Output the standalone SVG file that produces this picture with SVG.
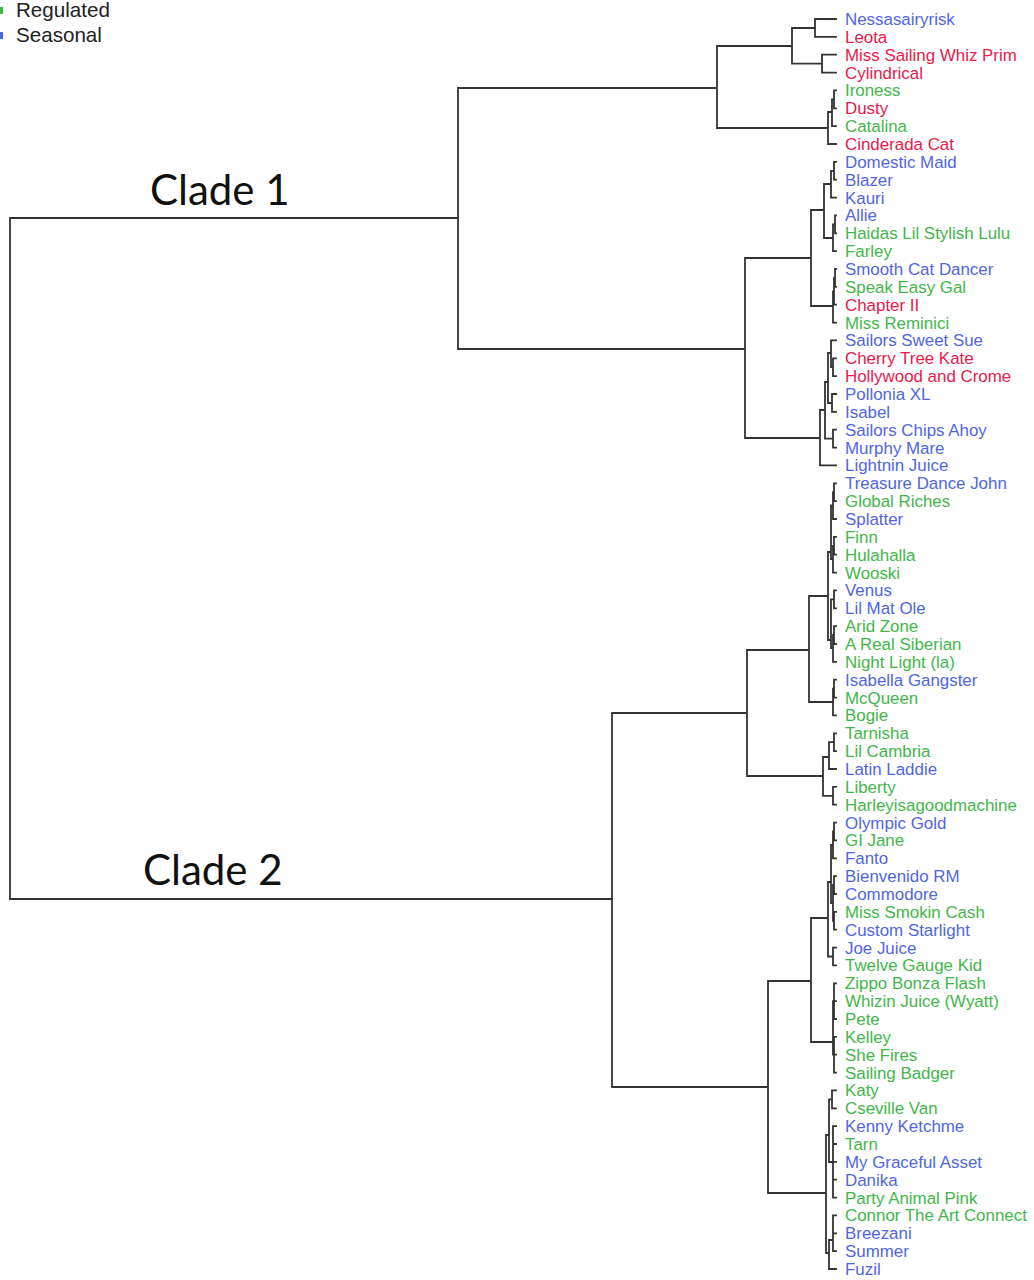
<svg xmlns="http://www.w3.org/2000/svg" width="1034" height="1280" viewBox="0 0 1034 1280">
<style>
.lbl{font-family:"Liberation Sans",Arial,sans-serif;font-size:16.9px}
.b{fill:#4f66e3}.r{fill:#e8194b}.g{fill:#43b64a}
.leg{font-family:"Liberation Sans",Arial,sans-serif;font-size:20.6px;fill:#222}
.clade{font-family:Lato,"Open Sans",sans-serif;font-size:42px;fill:#111}
.tree{fill:none;stroke:#333;stroke-width:1.8;stroke-linecap:square}
</style>
<rect width="1034" height="1280" fill="#fff"/>
<g id="legend">
<rect x="-4" y="7" width="7" height="7" fill="#43b64a"/>
<text class="leg" x="16" y="17">Regulated</text>
<rect x="-4" y="32" width="7" height="7" fill="#4f66e3"/>
<text class="leg" x="16" y="42">Seasonal</text>
</g>
<g id="clade-labels">
<text class="clade" x="150" y="205">Clade 1</text>
<text class="clade" x="143" y="885">Clade 2</text>
</g>
<g id="connectors" class="tree">
<path d="M10 218V899M10 218H458M10 899H612"/>
<path d="M458 88V349M458 88H717M458 349H745
M717 46V128M717 46H792M717 128H828
M792 28V63.6M792 28H815M792 63.6H822
M815 19V36.9M815 19H836M815 36.9H836
M822 54.7V72.6M822 54.7H836M822 72.6H836
M828 112V144M828 112H832M828 144H836
M832 99.4V126.1M832 99.4H834M832 126.1H836
M834 90.4V108.3M834 90.4H836M834 108.3H836
M745 258V438M745 258H811M745 438H820
M811 210V306M811 210H824M811 306H833
M824 184V238M824 184H831M824 238H833
M831 170.8V197.6M831 170.8H834M831 197.6H836
M834 161.9V179.7M834 161.9H836M834 179.7H836
M833 224.4V251.1M833 224.4H835M833 251.1H836
M835 215.4V233.3M835 215.4H836M835 233.3H836
M833 291.5V322.6M833 291.5H834M833 322.6H836
M834 278V304.7M834 278H835M834 304.7H836
M835 269V286.9M835 269H836M835 286.9H836
M820 410V465.4M820 410H825M820 465.4H836
M825 382V438.6M825 382H828M825 438.6H833
M828 353V403M828 353H831M828 403H832
M831 340.4V367.2M831 340.4H836M831 367.2H833
M833 358.3V376.1M833 358.3H836M833 376.1H836
M832 394V411.9M832 394H836M832 411.9H836
M833 429.7V447.6M833 429.7H836M833 447.6H836"/>
<path d="M612 713V1087M612 713H747M612 1087H768
M747 650V776M747 650H809M747 776H823
M809 596V702M809 596H828M809 702H833
M828 552V640M828 552H831M828 640H831
M831 505.5V559M831 505.5H833M831 559H833
M833 492.2V519M833 492.2H834M833 519H836
M834 483.3V501.1M834 483.3H836M834 501.1H836
M833 545.8V572.6M833 545.8H834M833 572.6H836
M834 536.9V554.7M834 536.9H836M834 554.7H836
M831 599.4V648M831 599.4H834M831 648H833
M834 590.4V608.3M834 590.4H836M834 608.3H836
M833 635V661.9M833 635H834M833 661.9H836
M834 626.1V644M834 626.1H836M834 644H836
M833 688.7V715.4M833 688.7H834M833 715.4H836
M834 679.7V697.6M834 679.7H836M834 697.6H836
M823 757V795.8M823 757H829M823 795.8H833
M829 742.2V769M829 742.2H834M829 769H836
M834 733.3V751.1M834 733.3H836M834 751.1H836
M833 786.9V804.7M833 786.9H836M833 804.7H836
M768 981V1193M768 981H811M768 1193H826
M811 918V1042M811 918H828M811 1042H833
M828 882V956.5M828 882H831M828 956.5H833
M831 845V903M831 845H833M831 903H833
M833 831.5V858.3M833 831.5H834M833 858.3H836
M834 822.6V840.4M834 822.6H836M834 840.4H836
M833 885V920.8M833 885H834M833 920.8H834
M834 876.1V894M834 876.1H836M834 894H836
M834 911.9V929.7M834 911.9H836M834 929.7H836
M833 947.6V965.4M833 947.6H836M833 965.4H836
M833 1001.1V1054.7M833 1001.1H834M833 1054.7H834
M834 983.3V1019M834 983.3H836M834 1001.1H836M834 1019H836
M834 1036.9V1072.6M834 1036.9H836M834 1054.7H836M834 1072.6H836
M826 1135V1253M826 1135H829M826 1253H829
M829 1099.4V1162M829 1099.4H832M829 1162H833
M832 1090.4V1108.3M832 1090.4H836M832 1108.3H836
M833 1126.1V1197.6M833 1126.1H836M833 1144H836M833 1161.9H836M833 1179.7H836M833 1197.6H836
M829 1240V1269M829 1240H833M829 1269H836
M833 1215.4V1251.1M833 1215.4H836M833 1233.3H836M833 1251.1H836"/>
</g>
<g id="leaves" class="lbl">
<g id="n01"><text class="b" x="845" y="25">Nessasairyrisk</text></g>
<g id="n02"><text class="r" x="845" y="42.9">Leota</text></g>
<g id="n03"><text class="r" x="845" y="60.7">Miss Sailing Whiz Prim</text></g>
<g id="n04"><text class="r" x="845" y="78.6">Cylindrical</text></g>
<g id="n05"><text class="g" x="845" y="96.4">Ironess</text></g>
<g id="n06"><text class="r" x="845" y="114.3">Dusty</text></g>
<g id="n07"><text class="g" x="845" y="132.1">Catalina</text></g>
<g id="n08"><text class="r" x="845" y="150">Cinderada Cat</text></g>
<g id="n09"><text class="b" x="845" y="167.9">Domestic Maid</text></g>
<g id="n10"><text class="b" x="845" y="185.7">Blazer</text></g>
<g id="n11"><text class="b" x="845" y="203.6">Kauri</text></g>
<g id="n12"><text class="b" x="845" y="221.4">Allie</text></g>
<g id="n13"><text class="g" x="845" y="239.3">Haidas Lil Stylish Lulu</text></g>
<g id="n14"><text class="g" x="845" y="257.1">Farley</text></g>
<g id="n15"><text class="b" x="845" y="275">Smooth Cat Dancer</text></g>
<g id="n16"><text class="g" x="845" y="292.9">Speak Easy Gal</text></g>
<g id="n17"><text class="r" x="845" y="310.7">Chapter II</text></g>
<g id="n18"><text class="g" x="845" y="328.6">Miss Reminici</text></g>
<g id="n19"><text class="b" x="845" y="346.4">Sailors Sweet Sue</text></g>
<g id="n20"><text class="r" x="845" y="364.3">Cherry Tree Kate</text></g>
<g id="n21"><text class="r" x="845" y="382.1">Hollywood and Crome</text></g>
<g id="n22"><text class="b" x="845" y="400">Pollonia XL</text></g>
<g id="n23"><text class="b" x="845" y="417.9">Isabel</text></g>
<g id="n24"><text class="b" x="845" y="435.7">Sailors Chips Ahoy</text></g>
<g id="n25"><text class="b" x="845" y="453.6">Murphy Mare</text></g>
<g id="n26"><text class="b" x="845" y="471.4">Lightnin Juice</text></g>
<g id="n27"><text class="b" x="845" y="489.3">Treasure Dance John</text></g>
<g id="n28"><text class="g" x="845" y="507.1">Global Riches</text></g>
<g id="n29"><text class="b" x="845" y="525">Splatter</text></g>
<g id="n30"><text class="g" x="845" y="542.9">Finn</text></g>
<g id="n31"><text class="g" x="845" y="560.7">Hulahalla</text></g>
<g id="n32"><text class="g" x="845" y="578.6">Wooski</text></g>
<g id="n33"><text class="b" x="845" y="596.4">Venus</text></g>
<g id="n34"><text class="b" x="845" y="614.3">Lil Mat Ole</text></g>
<g id="n35"><text class="g" x="845" y="632.1">Arid Zone</text></g>
<g id="n36"><text class="g" x="845" y="650">A Real Siberian</text></g>
<g id="n37"><text class="g" x="845" y="667.9">Night Light (la)</text></g>
<g id="n38"><text class="b" x="845" y="685.7">Isabella Gangster</text></g>
<g id="n39"><text class="g" x="845" y="703.6">McQueen</text></g>
<g id="n40"><text class="g" x="845" y="721.4">Bogie</text></g>
<g id="n41"><text class="g" x="845" y="739.3">Tarnisha</text></g>
<g id="n42"><text class="g" x="845" y="757.1">Lil Cambria</text></g>
<g id="n43"><text class="b" x="845" y="775">Latin Laddie</text></g>
<g id="n44"><text class="g" x="845" y="792.9">Liberty</text></g>
<g id="n45"><text class="g" x="845" y="810.7">Harleyisagoodmachine</text></g>
<g id="n46"><text class="b" x="845" y="828.6">Olympic Gold</text></g>
<g id="n47"><text class="g" x="845" y="846.4">GI Jane</text></g>
<g id="n48"><text class="b" x="845" y="864.3">Fanto</text></g>
<g id="n49"><text class="b" x="845" y="882.1">Bienvenido RM</text></g>
<g id="n50"><text class="b" x="845" y="900">Commodore</text></g>
<g id="n51"><text class="g" x="845" y="917.9">Miss Smokin Cash</text></g>
<g id="n52"><text class="b" x="845" y="935.7">Custom Starlight</text></g>
<g id="n53"><text class="b" x="845" y="953.6">Joe Juice</text></g>
<g id="n54"><text class="g" x="845" y="971.4">Twelve Gauge Kid</text></g>
<g id="n55"><text class="g" x="845" y="989.3">Zippo Bonza Flash</text></g>
<g id="n56"><text class="g" x="845" y="1007.1">Whizin Juice (Wyatt)</text></g>
<g id="n57"><text class="g" x="845" y="1025">Pete</text></g>
<g id="n58"><text class="g" x="845" y="1042.9">Kelley</text></g>
<g id="n59"><text class="g" x="845" y="1060.7">She Fires</text></g>
<g id="n60"><text class="g" x="845" y="1078.6">Sailing Badger</text></g>
<g id="n61"><text class="g" x="845" y="1096.4">Katy</text></g>
<g id="n62"><text class="g" x="845" y="1114.3">Cseville Van</text></g>
<g id="n63"><text class="b" x="845" y="1132.1">Kenny Ketchme</text></g>
<g id="n64"><text class="g" x="845" y="1150">Tarn</text></g>
<g id="n65"><text class="b" x="845" y="1167.9">My Graceful Asset</text></g>
<g id="n66"><text class="b" x="845" y="1185.7">Danika</text></g>
<g id="n67"><text class="g" x="845" y="1203.6">Party Animal Pink</text></g>
<g id="n68"><text class="g" x="845" y="1221.4">Connor The Art Connect</text></g>
<g id="n69"><text class="b" x="845" y="1239.3">Breezani</text></g>
<g id="n70"><text class="b" x="845" y="1257.1">Summer</text></g>
<g id="n71"><text class="b" x="845" y="1275">Fuzil</text></g>
</g>
</svg>
